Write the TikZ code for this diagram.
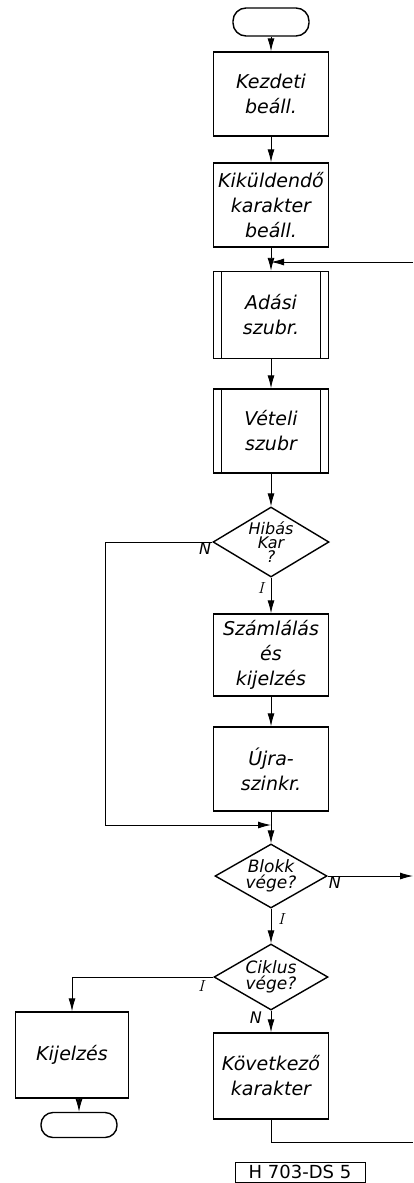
\documentclass[tikz,border=0pt]{standalone}
\usepackage{fontspec}
\newfontfamily\handfont{DejaVu Sans}
\usetikzlibrary{shapes.geometric,arrows.meta,positioning}

\begin{document}
\begin{tikzpicture}[x=1pt, y=-1pt,
  box/.style={draw, line width=1.4pt, minimum width=115pt, minimum height=84pt, align=center, inner sep=2pt, font=\handfont\itshape\fontsize{19}{25}\selectfont},
  subr/.style={box, path picture={\draw[line width=1.4pt] ([xshift=8pt]path picture bounding box.north west) -- ([xshift=8pt]path picture bounding box.south west) ([xshift=-8pt]path picture bounding box.north east) -- ([xshift=-8pt]path picture bounding box.south east);}},
  term/.style={draw, line width=1.4pt, rounded corners=13pt, minimum width=76pt, minimum height=28pt},
  test/.style={draw, diamond, line width=1.4pt, minimum width=114pt, minimum height=66pt, inner sep=0pt, aspect=1.7, align=center, font=\handfont\itshape\fontsize{17}{16}\selectfont},
  lbl/.style={font=\handfont\itshape\fontsize{16}{16}\selectfont, inner sep=1pt},
  arr/.style={-{Latex[length=13pt,width=7pt]}},
  line/.style={line width=0.9pt}]

\useasboundingbox (0,0) rectangle (413,1183);

\node[term] (start) at (271,22) {};
\node[box] (init) at (271,94) {Kezdeti\\beáll.};
\node[box] (chr) at (271,205) {Kiküldendő\\karakter\\beáll.};
\node[subr, minimum height=87pt] (adas) at (271,315) {Adási\\szubr.};
\node[subr] (vetel) at (271,431) {Vételi\\szubr};
\node[test, minimum width=116pt, minimum height=70pt, font=\handfont\itshape\fontsize{16}{14}\selectfont] (hibas) at (271,542) {Hibás\\Kar\\?};
\node[box, minimum height=82pt] (szaml) at (271,655) {Számlálás\\és\\kijelzés};
\node[box] (ujra) at (271,769) {Újra-\\szinkr.};
\coordinate (merge) at (271,825);
\coordinate (nleft) at (105,542);
\node[test, minimum width=112pt, minimum height=64pt] (blokk) at (271,876) {Blokk\\vége?};
\node[test] (ciklus) at (271,977) {Ciklus\\vége?};
\node[box, minimum width=113pt, minimum height=86pt] (kijel) at (72,1055) {Kijelzés};
\node[term, minimum height=25pt, rounded corners=12pt] (stop) at (79,1125) {};
\node[box, minimum height=86pt] (kov) at (271,1076) {Következő\\karakter};
\node[draw, line width=0.8pt, minimum width=130pt, minimum height=20pt, inner sep=1pt, font=\handfont\fontsize{18}{18}\selectfont] (code) at (300,1172) {H 703-DS 5};

\coordinate (backin) at (413,262);
\coordinate (blokkout) at (413,876);
\coordinate (kovout) at (413,1142);

\draw[line, arr] (start.south) -- (init.north);
\draw[line, arr] (init.south) -- (chr.north);
\draw[line, arr] (chr.south) -- (adas.north);
\draw[line, arr] (backin) -- (backin -| chr.south);
\draw[line, arr] (adas.south) -- (vetel.north);
\draw[line, arr] (vetel.south) -- (hibas.north);
\draw[line, arr] (hibas.west) -- (nleft) |- (merge);
\draw[line, arr] (hibas.south) -- (szaml.north);
\draw[line, arr] (szaml.south) -- (ujra.north);
\draw[line] (ujra.south) -- (merge);
\draw[line, arr] (merge) -- (blokk.north);
\draw[line, arr] (blokk.east) -- (blokkout);
\draw[line, arr] (blokk.south) -- (ciklus.north);
\draw[line, arr] (ciklus.west) -| (kijel.north);
\draw[line, arr] (stop.north |- kijel.south) -- (stop.north);
\draw[line, arr] (ciklus.south) -- (kov.north);
\draw[line] (kov.south) |- (kovout);

\node[lbl, below left] (hibasn) at (hibas.west) {N};
\node[lbl, below left=4pt and 6pt] (hibasi) at (hibas.south) {\rmfamily I};
\node[lbl, below right] (blokkn) at (blokk.east) {N};
\node[lbl, below right=4pt and 6pt] (blokki) at (blokk.south) {\rmfamily\itshape I};
\node[lbl, below left=2pt and 8pt] (ciklusi) at (ciklus.west) {\rmfamily\itshape I};
\node[lbl, below left=0pt and 8pt] (ciklusn) at (ciklus.south) {N};

\end{tikzpicture}
\end{document}
